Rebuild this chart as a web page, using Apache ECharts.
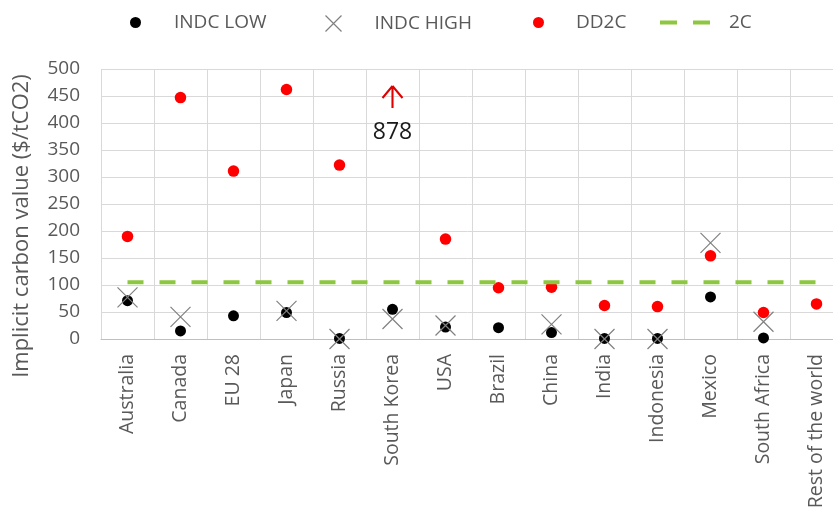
<!DOCTYPE html>
<html>
<head>
<meta charset="utf-8">
<script src="https://cdn.jsdelivr.net/npm/echarts@6/dist/echarts.min.js"></script>
<style>
html,body{margin:0;padding:0;background:#fff;}
#chart{width:833px;height:512px;}
</style>
</head>
<body>
<div id="chart"></div>
<script>
const categories = ['Australia','Canada','EU 28','Japan','Russia','South Korea','USA','Brazil','China','India','Indonesia','Mexico','South Africa','Rest of the world'];
const indcLow  = [71, 15, 43, 49, 1, 55, 22, 21, 12, 1, 1, 78, 2, null];
const indcHigh = [77, 41, null, 52, 0, 37, 25, null, 27, 0, 0, 178, 32, null];
const dd2c     = [190, 447, 311, 462, 322, null, 185, 95, 96, 62, 60, 154, 49, 65];
const twoC     = [105, 105, 105, 105, 105, 105, 105, 105, 105, 105, 105, 105, 105, 105];
// Off-scale DD2C value shown as an arrow with its value
const offScaleCategory = 'South Korea';
const offScaleValue = 878;
const offScaleMarkerAt = 448;
const yTicks = {min: 0, max: 500, interval: 50};

const FONT = 'Open Sans';
const GRAY = '#595959';
const GREEN = '#8dc63f';
const xPath = 'path://M0,0L20,20M20,0L0,20';
const arrowPath = 'path://M10,0L0,12M10,0L20,12M10,0L10,22';
const dashIcon = 'path://M0,0H17V4H0Z M33,0H50V4H33Z';

const chart = echarts.init(document.getElementById('chart'), null, {renderer:'canvas'});
function leg(item, left, w, h, pad) {
  return {
    data: [item], left: left, top: 8, itemWidth: w, itemHeight: h,
    selectedMode: false, symbolKeepAspect: true,
    textStyle: {fontFamily: FONT, fontSize: 19, color: GRAY, padding: [0, 0, 0, pad]}
  };
}
chart.setOption({
  animation: false,
  textStyle: {fontFamily: FONT},
  legend: [
    leg({name: 'INDC LOW', icon: 'circle', itemStyle: {color: '#000'}}, 125, 11, 11, 28),
    leg({name: 'INDC HIGH', icon: xPath, itemStyle: {color: 'none', borderColor: '#808080', borderWidth: 1.2}}, 318, 16, 16, 28),
    leg({name: 'DD2C', icon: 'circle', itemStyle: {color: '#ff0000'}}, 528, 11, 11, 27),
    leg({name: '2C', icon: dashIcon, itemStyle: {color: GREEN, borderWidth: 0}}, 655, 50, 4, 14)
  ],
  grid: {left: 101, right: -10, top: 69, bottom: 173, containLabel: false, outerBoundsMode: 'none'},
  xAxis: {
    type: 'category', data: categories, boundaryGap: true,
    axisLine: {show: true, lineStyle: {color: '#bfbfbf', width: 1}},
    axisTick: {show: false},
    splitLine: {show: true, lineStyle: {color: '#d9d9d9', width: 1}},
    axisLabel: {rotate: 90, interval: 0, margin: 15, color: GRAY, fontFamily: FONT, fontSize: 19.5}
  },
  yAxis: {
    type: 'value', min: yTicks.min, max: yTicks.max, interval: yTicks.interval,
    name: 'Implicit carbon value ($/tCO2)', nameLocation: 'middle', nameGap: 68,
    nameTextStyle: {color: GRAY, fontFamily: FONT, fontSize: 22, padding: [0, 44, 0, 0]},
    axisLine: {show: false}, axisTick: {show: false},
    splitLine: {show: true, lineStyle: {color: '#d9d9d9', width: 1}},
    axisLabel: {margin: 21, color: GRAY, fontFamily: FONT, fontSize: 19}
  },
  series: [
    {name: 'INDC LOW', type: 'scatter', data: indcLow, symbol: 'circle', symbolSize: 11,
     itemStyle: {color: '#000000', opacity: 1}, z: 2},
    {name: 'INDC HIGH', type: 'scatter', data: indcHigh, symbol: xPath, symbolSize: 20,
     itemStyle: {color: 'none', borderColor: '#808080', borderWidth: 1.2, opacity: 1}, z: 3},
    {name: 'DD2C', type: 'scatter', data: dd2c, symbol: 'circle', symbolSize: 11.5,
     itemStyle: {color: '#ff0000', opacity: 1}, z: 4,
     markPoint: {
       symbol: arrowPath, symbolSize: [20, 22],
       itemStyle: {color: 'none', borderColor: '#e00000', borderWidth: 2.2, opacity: 1},
       label: {show: true, position: 'bottom', distance: 10, formatter: String(offScaleValue),
               color: '#1a1a1a', fontFamily: FONT, fontSize: 23},
       data: [{coord: [offScaleCategory, offScaleMarkerAt], value: offScaleValue}]
     }},
    {name: '2C', type: 'line', data: twoC, symbol: 'none', showSymbol: false,
     lineStyle: {color: GREEN, width: 4, type: [16, 16], cap: 'butt'},
     itemStyle: {color: GREEN}, z: 5}
  ]
});
</script>
</body>
</html>
